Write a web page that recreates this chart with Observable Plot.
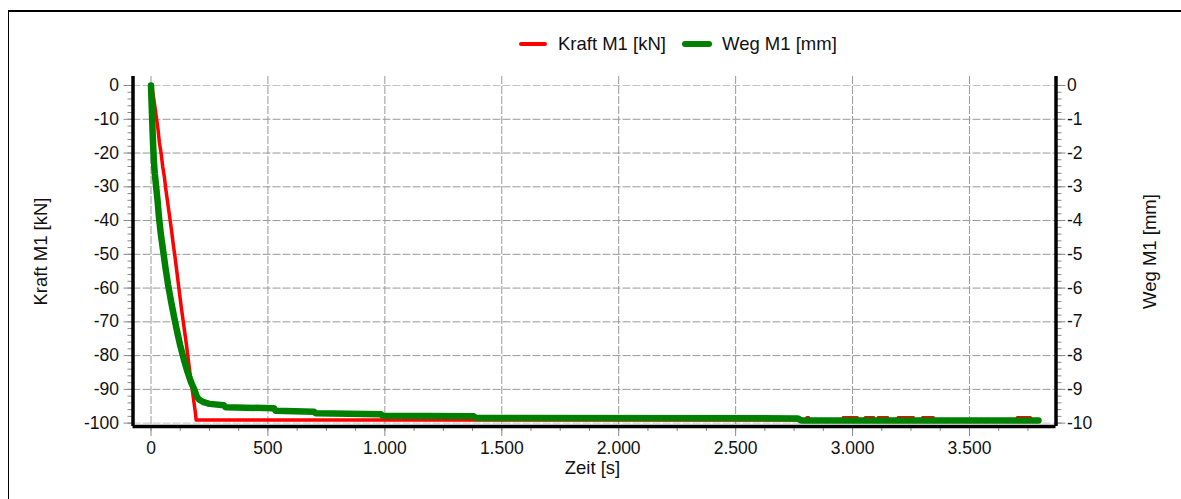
<!DOCTYPE html>
<html>
<head>
<meta charset="utf-8">
<script src="https://cdn.jsdelivr.net/npm/d3@7"></script>
<script src="https://cdn.jsdelivr.net/npm/@observablehq/plot@0.6"></script>
<style>
  html, body { margin: 0; padding: 0; background: #fff; }
  #wrap { position: relative; width: 1181px; height: 499px; overflow: hidden; font-family: "Liberation Sans", Arial, sans-serif; }
  #border { position: absolute; left: 8px; top: 10px; width: 1200px; height: 520px; border-top: 2px solid #000; border-left: 1px solid #000; }
  #legend { position: relative; height: 60px; }
  .sw { position: absolute; }
  .lt { position: absolute; font-size: 18.5px; color: #111; line-height: 20px; top: 34px; }
  #chart { position: relative; }
</style>
</head>
<body>
<div id="wrap">
  <div id="border"></div>
  <div id="legend">
    <div class="sw" style="left:519px;top:42px;width:28px;height:4px;background:#ff0000;border-radius:2px"></div>
    <div class="lt" style="left:558px">Kraft M1 [kN]</div>
    <div class="sw" style="left:682px;top:41px;width:30px;height:6px;background:#008000;border-radius:3px"></div>
    <div class="lt" style="left:722px">Weg M1 [mm]</div>
  </div>
  <div id="chart"></div>
</div>
<script>
// ---- data ----
const kraftTime  = [0, 5, 12, 18, 24, 30, 36, 43, 50, 57, 64, 72, 80, 88, 95, 103, 112, 121, 130, 140, 150, 159, 168, 176, 184, 190, 193, 2800, 2805, 2812, 2815, 2958, 2960, 3020, 3022, 3053, 3055, 3090, 3092, 3108, 3110, 3150, 3152, 3193, 3195, 3260, 3262, 3298, 3300, 3345, 3347, 3703, 3705, 3760];
const kraftValue = [0, -1, -4, -7, -10, -13, -17, -20, -24, -27, -31, -35, -39, -43, -47, -51, -56, -61, -66, -71, -76, -81, -86, -90, -94, -97, -99.1, -99.1, -98.4, -98.4, -99.1, -99.1, -98.4, -98.4, -99.1, -99.1, -98.4, -98.4, -99.1, -99.1, -98.4, -98.4, -99.1, -99.1, -98.4, -98.4, -99.1, -99.1, -98.4, -98.4, -99.1, -99.1, -98.4, -98.4];

const wegTime  = [0, 2, 5, 8, 12, 16, 22, 28, 34, 42, 52, 62, 73, 86, 100, 112, 125, 140, 157, 172, 185, 195, 205, 225, 250, 312, 318, 526, 532, 697, 705, 983, 990, 1380, 1390, 2765, 2780, 3795];
const wegValue = [0, -0.4, -1.0, -1.6, -2.2, -2.6, -3.0, -3.4, -3.9, -4.4, -4.9, -5.4, -5.9, -6.4, -6.9, -7.3, -7.7, -8.1, -8.5, -8.8, -9.0, -9.2, -9.3, -9.38, -9.43, -9.47, -9.53, -9.56, -9.63, -9.66, -9.71, -9.74, -9.78, -9.8, -9.85, -9.86, -9.92, -9.92];

const xTicks = [0, 500, 1000, 1500, 2000, 2500, 3000, 3500];
const xMinorTicks = d3.range(0, 3751, 125);
const yTicks = [-100, -90, -80, -70, -60, -50, -40, -30, -20, -10, 0];
const yInnerGrid = [-90, -80, -70, -60, -50, -40, -30, -20, -10];
const yEdgeGrid = [-100, 0];
const yMinorTicks = d3.range(-100, 0.1, 2);
const rightTicks = [-10, -9, -8, -7, -6, -5, -4, -3, -2, -1, 0];
const rightMinorTicks = d3.range(-10, 0.01, 0.2);

const kraftLabel = "Kraft M1 [kN]";
const wegLabel = "Weg M1 [mm]";
const timeLabel = "Zeit [s]";

// ---- build ----
const kraft = kraftTime.map((t, i) => ({t, v: kraftValue[i]}));
const weg = wegTime.map((t, i) => ({t, v: wegValue[i] * 10})); // mm mapped onto kN scale (0..-10 ↔ 0..-100)

const de = d3.formatLocale({decimal: ",", thousands: ".", grouping: [3], currency: ["", "€"]});
const fmtX = de.format(",");
const xDom = [-77, 3870];
const yDom = [-101, 2.67];

const grid = {stroke: "#999", strokeOpacity: 1, strokeDasharray: "8,2", strokeWidth: 1};
const gridLight = {stroke: "#c4c4c4", strokeOpacity: 1, strokeDasharray: "8,2", strokeWidth: 1};

const chart = Plot.plot({
  width: 1181,
  height: 439,
  marginLeft: 132.5,
  marginRight: 125.5,
  marginTop: 16,
  marginBottom: 73,
  x: {domain: xDom},
  y: {domain: yDom},
  style: {fontFamily: "'Liberation Sans', Arial, sans-serif", fontSize: "17.5px", background: "transparent", color: "#111"},
  marks: [
    Plot.gridY(yEdgeGrid, gridLight),
    Plot.gridY(yInnerGrid, grid),
    Plot.gridX(xTicks, grid),
    Plot.axisY(yMinorTicks, {anchor: "left", tickSize: 5, tickFormat: () => "", stroke: "#888", label: null}),
    Plot.axisY(yTicks, {anchor: "left", tickSize: 9, tickPadding: 5, tickFormat: d => String(d), stroke: "#888", fill: "#111", label: null}),
    Plot.axisY(rightMinorTicks.map(d => d * 10), {anchor: "right", tickSize: 5, tickFormat: () => "", stroke: "#888", label: null}),
    Plot.axisY(rightTicks.map(d => d * 10), {anchor: "right", tickSize: 9, tickPadding: 2, tickFormat: d => String(Math.round(d / 10)), stroke: "#888", fill: "#111", label: null}),
    Plot.axisX(xMinorTicks, {anchor: "bottom", tickSize: 5, tickFormat: () => "", stroke: "#888", label: null}),
    Plot.axisX(xTicks, {anchor: "bottom", tickSize: 10, tickPadding: 5, tickFormat: fmtX, stroke: "#888", fill: "#111", label: null}),
    Plot.line(kraft, {x: "t", y: "v", stroke: "#ff0000", strokeWidth: 3.5, curve: "linear"}),
    Plot.line(weg, {x: "t", y: "v", stroke: "#008000", strokeWidth: 6.5, strokeLinecap: "round", strokeLinejoin: "round", curve: "linear"}),
    Plot.ruleX([xDom[0], xDom[1]], {stroke: "#000", strokeWidth: 3.5}),
    Plot.ruleY([yDom[0]], {stroke: "#000", strokeWidth: 3.5}),
    Plot.text([kraftLabel], {text: d => d, frameAnchor: "left", dx: -92, rotate: -90, textAnchor: "middle", lineAnchor: "middle", fontSize: 18.5, fill: "#111"}),
    Plot.text([wegLabel], {text: d => d, frameAnchor: "right", dx: 94, rotate: -90, textAnchor: "middle", lineAnchor: "middle", fontSize: 18.5, fill: "#111"}),
    Plot.text([timeLabel], {text: d => d, frameAnchor: "bottom", dx: -2, dy: 42, textAnchor: "middle", lineAnchor: "middle", fontSize: 18.5, fill: "#111"})
  ]
});
document.getElementById("chart").appendChild(chart);
</script>
</body>
</html>
